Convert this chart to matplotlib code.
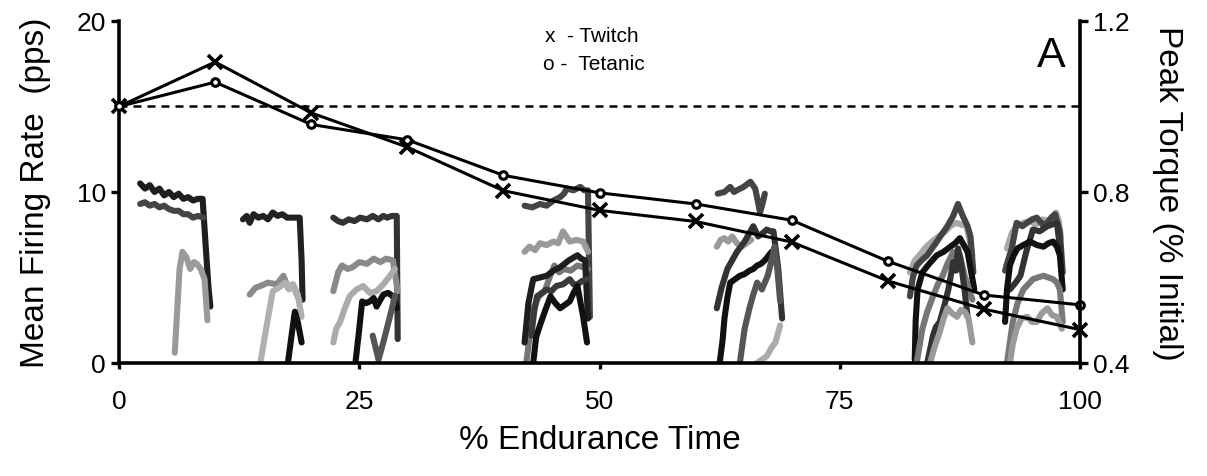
import matplotlib
matplotlib.use("Agg")
import matplotlib.pyplot as plt

plt.rcParams['font.family'] = ['Liberation Sans', 'DejaVu Sans']

# peak torque, relative to initial (right axis)
time_pts = [0, 10, 20, 30, 40, 50, 60, 70, 80, 90, 100]
twitch = [1.0, 1.104, 0.985, 0.905, 0.803, 0.757, 0.731, 0.683, 0.592, 0.526, 0.478]
tetanic = [1.0, 1.057, 0.958, 0.922, 0.839, 0.798, 0.772, 0.734, 0.638, 0.559, 0.536]

# firing rate traces of single motor units (left axis), x = % endurance time, y = pps
traces = [
    # first contraction block
    ([2.2, 2.7, 3.2, 3.7, 4.2, 4.7, 5.2, 5.7, 6.2, 6.7, 7.2, 7.7, 8.2, 8.7, 9.0, 9.3, 9.5],
     [10.5, 10.2, 10.4, 10.0, 10.2, 9.8, 10.0, 9.7, 9.9, 9.6, 9.7, 9.5, 9.6, 9.6, 7.0, 4.5, 3.3]),
    ([2.2, 2.7, 3.2, 3.7, 4.2, 4.7, 5.2, 5.7, 6.2, 6.7, 7.2, 7.7, 8.2, 8.8],
     [9.3, 9.4, 9.2, 9.3, 9.1, 9.2, 9.0, 8.9, 8.9, 8.7, 8.7, 8.5, 8.6, 8.5]),
    ([5.8, 6.3, 6.6, 7.0, 7.4, 7.8, 8.1, 8.5, 8.9, 9.2],
     [0.6, 5.5, 6.5, 6.2, 5.5, 5.9, 5.8, 5.5, 4.9, 2.5]),
    # second
    ([12.9, 13.3, 13.6, 14.0, 14.5, 15.0, 15.5, 16.0, 16.5, 17.0, 17.5, 18.0, 18.8, 19.0, 19.1],
     [8.4, 8.6, 8.2, 8.7, 8.5, 8.6, 8.4, 8.8, 8.6, 8.7, 8.5, 8.5, 8.5, 6.0, 3.7]),
    ([13.6, 14.2, 14.7, 15.5, 16.4, 17.1, 17.6, 18.1, 18.8],
     [4.0, 4.4, 4.5, 4.7, 4.6, 5.1, 4.4, 4.6, 3.6]),
    ([14.7, 15.4, 16.0, 16.6, 17.3, 17.7, 18.1, 18.6, 19.0],
     [0.0, 2.3, 4.2, 4.4, 4.7, 4.3, 4.6, 4.0, 2.7]),
    ([17.6, 18.0, 18.3, 18.6, 19.0],
     [0.1, 1.8, 3.0, 2.4, 1.2]),
    # third
    ([22.3, 22.8, 23.3, 23.9, 24.5, 25.1, 25.8, 26.4, 27.0, 27.5, 27.9, 28.4, 28.9, 29.0],
     [8.5, 8.3, 8.2, 8.4, 8.3, 8.5, 8.4, 8.6, 8.4, 8.6, 8.5, 8.6, 8.6, 1.4]),
    ([22.3, 22.8, 23.2, 23.8, 24.3, 25.0, 25.8, 26.5, 27.2, 27.8, 28.5, 29.0],
     [4.2, 5.3, 5.7, 5.5, 5.6, 5.9, 5.8, 6.1, 5.9, 6.1, 6.0, 4.2]),
    ([22.3, 22.6, 23.0, 23.5, 24.0, 24.7, 25.4, 26.1, 26.8, 27.5, 28.2, 28.7],
     [1.2, 2.0, 2.4, 3.2, 3.9, 4.3, 4.5, 4.1, 4.2, 4.6, 5.1, 5.5]),
    ([24.6, 25.0, 25.3, 25.7, 26.1, 26.5, 26.8, 27.2, 27.5, 28.0, 28.5, 28.9],
     [0.0, 2.0, 3.6, 3.5, 3.6, 3.8, 3.3, 3.7, 4.0, 4.1, 3.9, 3.2]),
    ([26.4, 27.0, 27.5, 28.0, 28.4, 28.7],
     [1.6, 0.2, 1.2, 2.3, 3.2, 3.9]),
    # fourth
    ([42.2, 43.0, 43.8, 44.5, 45.2, 45.9, 46.3, 46.6, 47.3, 48.0, 48.4, 48.8, 49.0],
     [9.2, 9.1, 9.3, 9.2, 9.5, 9.7, 9.9, 10.2, 10.1, 10.3, 10.1, 10.1, 2.7]),
    ([42.2, 42.7, 43.3, 43.8, 44.5, 45.2, 45.7, 46.2, 46.9, 47.6, 48.3, 48.8],
     [6.5, 6.8, 6.6, 7.0, 6.9, 7.1, 7.0, 7.7, 7.1, 7.2, 7.1, 6.5]),
    ([42.4, 43.1, 43.7, 44.3, 44.8, 45.3, 45.8, 46.3, 47.0, 47.7, 48.3, 48.8],
     [0.1, 3.2, 3.9, 4.2, 5.0, 5.7, 5.3, 5.5, 5.4, 5.7, 5.6, 5.5]),
    ([42.2, 42.6, 43.1, 43.8, 44.5, 45.2, 45.9, 46.8, 47.7, 48.1, 48.5, 48.8],
     [1.2, 3.5, 4.9, 5.0, 5.1, 5.4, 5.6, 6.0, 6.3, 6.1, 6.0, 2.6]),
    ([42.9, 43.2, 43.5, 44.0, 44.5, 45.0, 45.5, 46.2, 46.9, 47.3, 47.7, 48.2, 48.7],
     [1.6, 3.0, 3.9, 4.1, 4.3, 4.2, 4.5, 4.6, 4.9, 4.6, 4.6, 4.8, 4.9]),
    ([43.1, 43.4, 43.8, 44.3, 44.9, 45.4, 45.9, 46.4, 46.9, 47.3, 47.7, 48.0, 48.3, 48.7],
     [0.0, 1.5, 2.2, 3.0, 3.9, 3.5, 3.2, 3.4, 3.6, 4.1, 4.5, 3.6, 2.7, 1.2]),
    # fifth
    ([62.3, 63.0, 63.6, 64.0, 64.3, 65.0, 65.7, 66.2, 66.5, 66.7, 67.0, 67.2],
     [9.9, 10.0, 10.3, 10.0, 10.1, 10.3, 10.6, 10.2, 9.4, 8.8, 9.4, 9.9]),
    ([62.2, 62.6, 63.0, 63.4, 63.8, 64.3, 64.8, 65.3, 65.8],
     [6.8, 7.2, 7.3, 7.1, 7.4, 7.0, 6.8, 7.0, 7.2]),
    ([62.2, 62.7, 63.3, 63.8, 64.3, 64.7, 65.1, 65.6, 66.0, 66.5, 67.0, 67.4, 67.8, 68.1, 68.6, 69.0],
     [3.2, 4.4, 5.5, 6.0, 6.5, 6.8, 7.1, 7.6, 8.0, 7.4, 7.6, 7.8, 7.7, 7.7, 5.5, 2.6]),
    ([62.5, 62.8, 63.0, 63.3, 63.6, 64.1, 64.6, 65.1, 65.6, 66.0, 66.4, 66.8, 67.2, 67.9],
     [0.0, 1.3, 2.6, 3.8, 4.7, 4.9, 5.1, 5.2, 5.4, 5.5, 5.7, 5.8, 6.0, 6.5]),
    ([64.6, 65.1, 65.6, 66.0, 66.4, 66.9, 67.2, 67.5, 67.9, 68.2, 68.5, 68.8],
     [0.0, 2.0, 3.2, 4.0, 4.7, 4.3, 4.7, 5.1, 6.0, 6.8, 5.5, 3.6]),
    ([66.4, 66.9, 67.4, 67.9, 68.3, 68.8],
     [0.0, 0.2, 0.4, 0.9, 1.2, 2.2]),
    # sixth
    ([82.3, 82.8, 83.3, 84.0, 84.6, 85.3, 86.0, 86.5, 87.1, 87.6, 88.2, 88.8],
     [5.3, 6.0, 6.3, 6.8, 7.1, 7.4, 7.7, 8.0, 8.2, 8.1, 8.0, 6.3]),
    ([82.3, 82.6, 83.0, 83.5, 84.1, 84.6, 85.1, 85.7, 86.2, 86.8, 87.3, 87.8, 88.3, 88.6, 88.9],
     [3.9, 5.0, 5.7, 6.0, 6.3, 6.7, 7.1, 7.6, 8.0, 8.6, 9.3, 8.6, 8.0, 7.4, 5.3]),
    ([82.8, 82.9, 83.1, 83.6, 84.3, 85.1, 85.8, 86.5, 87.0, 87.5, 87.9, 88.3, 89.0],
     [0.2, 2.5, 4.3, 5.3, 5.8, 6.3, 6.5, 6.8, 7.0, 7.3, 6.9, 6.5, 4.3]),
    ([83.0, 83.3, 83.6, 84.1, 84.7, 85.2, 85.7, 86.2, 86.8, 87.2, 87.5, 88.0, 88.4, 88.8],
     [0.0, 1.0, 2.0, 3.0, 3.9, 4.6, 5.1, 5.8, 6.5, 6.1, 6.3, 5.1, 4.4, 3.7]),
    ([84.1, 84.4, 84.7, 85.0, 85.4, 85.9, 86.3, 86.8, 87.1, 87.3, 87.5, 87.7, 88.0, 88.3],
     [0.0, 0.8, 1.6, 2.1, 2.4, 3.4, 4.3, 5.9, 5.4, 6.7, 6.2, 5.5, 4.2, 2.7]),
    ([84.4, 84.9, 85.4, 85.8, 86.2, 86.7, 87.2, 87.6, 88.0, 88.4, 88.8],
     [0.0, 1.0, 1.8, 2.6, 3.2, 2.9, 2.7, 3.1, 3.0, 2.6, 1.2]),
    # seventh
    ([92.4, 92.9, 93.4, 94.1, 94.8, 95.4, 96.1, 96.8, 97.5, 97.8, 98.0],
     [6.7, 7.6, 8.0, 8.2, 8.3, 8.1, 8.4, 8.3, 8.8, 8.3, 7.3]),
    ([92.2, 92.5, 92.9, 93.4, 94.0, 94.5, 95.0, 95.5, 96.1, 96.6, 97.0, 97.4, 97.9, 98.2],
     [5.4, 6.0, 6.7, 8.2, 8.0, 8.2, 8.4, 8.5, 8.1, 8.2, 8.5, 8.7, 7.7, 5.3]),
    ([92.7, 93.3, 93.8, 94.4, 95.1, 95.8, 96.6, 97.1, 97.6, 98.0],
     [4.3, 4.7, 5.1, 6.5, 7.8, 7.7, 8.0, 8.1, 8.2, 6.3]),
    ([92.2, 92.4, 92.7, 93.1, 93.5, 94.1, 94.8, 95.5, 96.2, 96.7, 97.2, 97.6, 97.9, 98.2],
     [2.4, 4.3, 5.7, 6.3, 6.7, 6.9, 7.1, 6.9, 6.8, 7.0, 7.1, 6.8, 6.3, 4.3]),
    ([92.4, 92.7, 93.0, 93.5, 94.1, 94.6, 95.1, 95.6, 96.2, 96.7, 97.2, 97.6, 97.9, 98.2],
     [0.0, 1.2, 2.4, 3.5, 4.3, 4.6, 4.9, 5.0, 5.1, 5.0, 4.9, 4.7, 4.3, 2.4]),
    ([92.7, 93.0, 93.4, 93.9, 94.5, 95.0, 95.5, 96.0, 96.6, 97.1, 97.6, 98.1],
     [0.0, 1.1, 2.0, 2.6, 2.7, 2.4, 2.4, 2.9, 3.2, 2.8, 2.7, 2.0]),
]
trace_grays = ['#1e1e1e', '#444444', '#9a9a9a',
               '#222222', '#8a8a8a', '#b0b0b0', '#111111',
               '#333333', '#8a8a8a', '#ababab', '#111111', '#555555',
               '#454545', '#9a9a9a', '#777777', '#1e1e1e', '#3a3a3a', '#111111',
               '#444444', '#9a9a9a', '#333333', '#111111', '#555555', '#ababab',
               '#a8a8a8', '#444444', '#111111', '#777777', '#333333', '#9a9a9a',
               '#aaaaaa', '#444444', '#333333', '#111111', '#777777', '#9a9a9a']

fig = plt.figure(figsize=(12.07, 4.77), dpi=100)
ax = fig.add_axes([0.0986, 0.2369, 0.7962, 0.717])

for (tx, ty), c in zip(traces, trace_grays):
    ax.plot(tx, ty, color=c, lw=4.4, solid_capstyle='round', solid_joinstyle='round')

ax.set_xlim(0, 100)
ax.set_ylim(0, 20)
ax.set_xticks([0, 25, 50, 75, 100])
ax.set_yticks([0, 10, 20])
ax.spines['top'].set_visible(False)
ax.spines['right'].set_visible(False)
for s in ['left', 'bottom']:
    ax.spines[s].set_linewidth(2.6)
ax.tick_params(axis='both', width=2.4, length=6, labelsize=19, direction='out')
ax.tick_params(axis='x', pad=15, length=4)
ax.set_xlabel('% Endurance Time', fontsize=24, labelpad=8)
ax.set_ylabel('Mean Firing Rate  (pps)', fontsize=24, labelpad=18)

ax2 = ax.twinx()
ax2.set_ylim(0.4, 1.2)
ax2.set_yticks([0.4, 0.8, 1.2])
ax2.spines['top'].set_visible(False)
ax2.spines['left'].set_visible(False)
ax2.spines['bottom'].set_visible(False)
ax2.spines['right'].set_linewidth(2.6)
ax2.tick_params(axis='y', width=2.4, length=6, labelsize=19, direction='out')
ax2.set_ylabel('Peak Torque (% Initial)', fontsize=24, rotation=270, labelpad=38)

ax2.axhline(1.0, color='black', lw=1.8, ls=(0, (3.2, 2.4)))
ax2.plot(time_pts, twitch, color='black', lw=2.2, marker='x', ms=10, mew=2.6, clip_on=False)
ax2.plot(time_pts, tetanic, color='black', lw=2.2, marker='o', ms=5.5, mew=2.2,
         mfc='white', mec='black', clip_on=False)

ax2.text(0.443, 0.985, 'x  - Twitch', transform=ax2.transAxes, fontsize=15, va='top')
ax2.text(0.441, 0.903, 'o -  Tetanic', transform=ax2.transAxes, fontsize=15, va='top')
ax2.text(0.97, 0.96, 'A', transform=ax2.transAxes, fontsize=31, ha='center', va='top')

fig.savefig('out.png', dpi=100)
